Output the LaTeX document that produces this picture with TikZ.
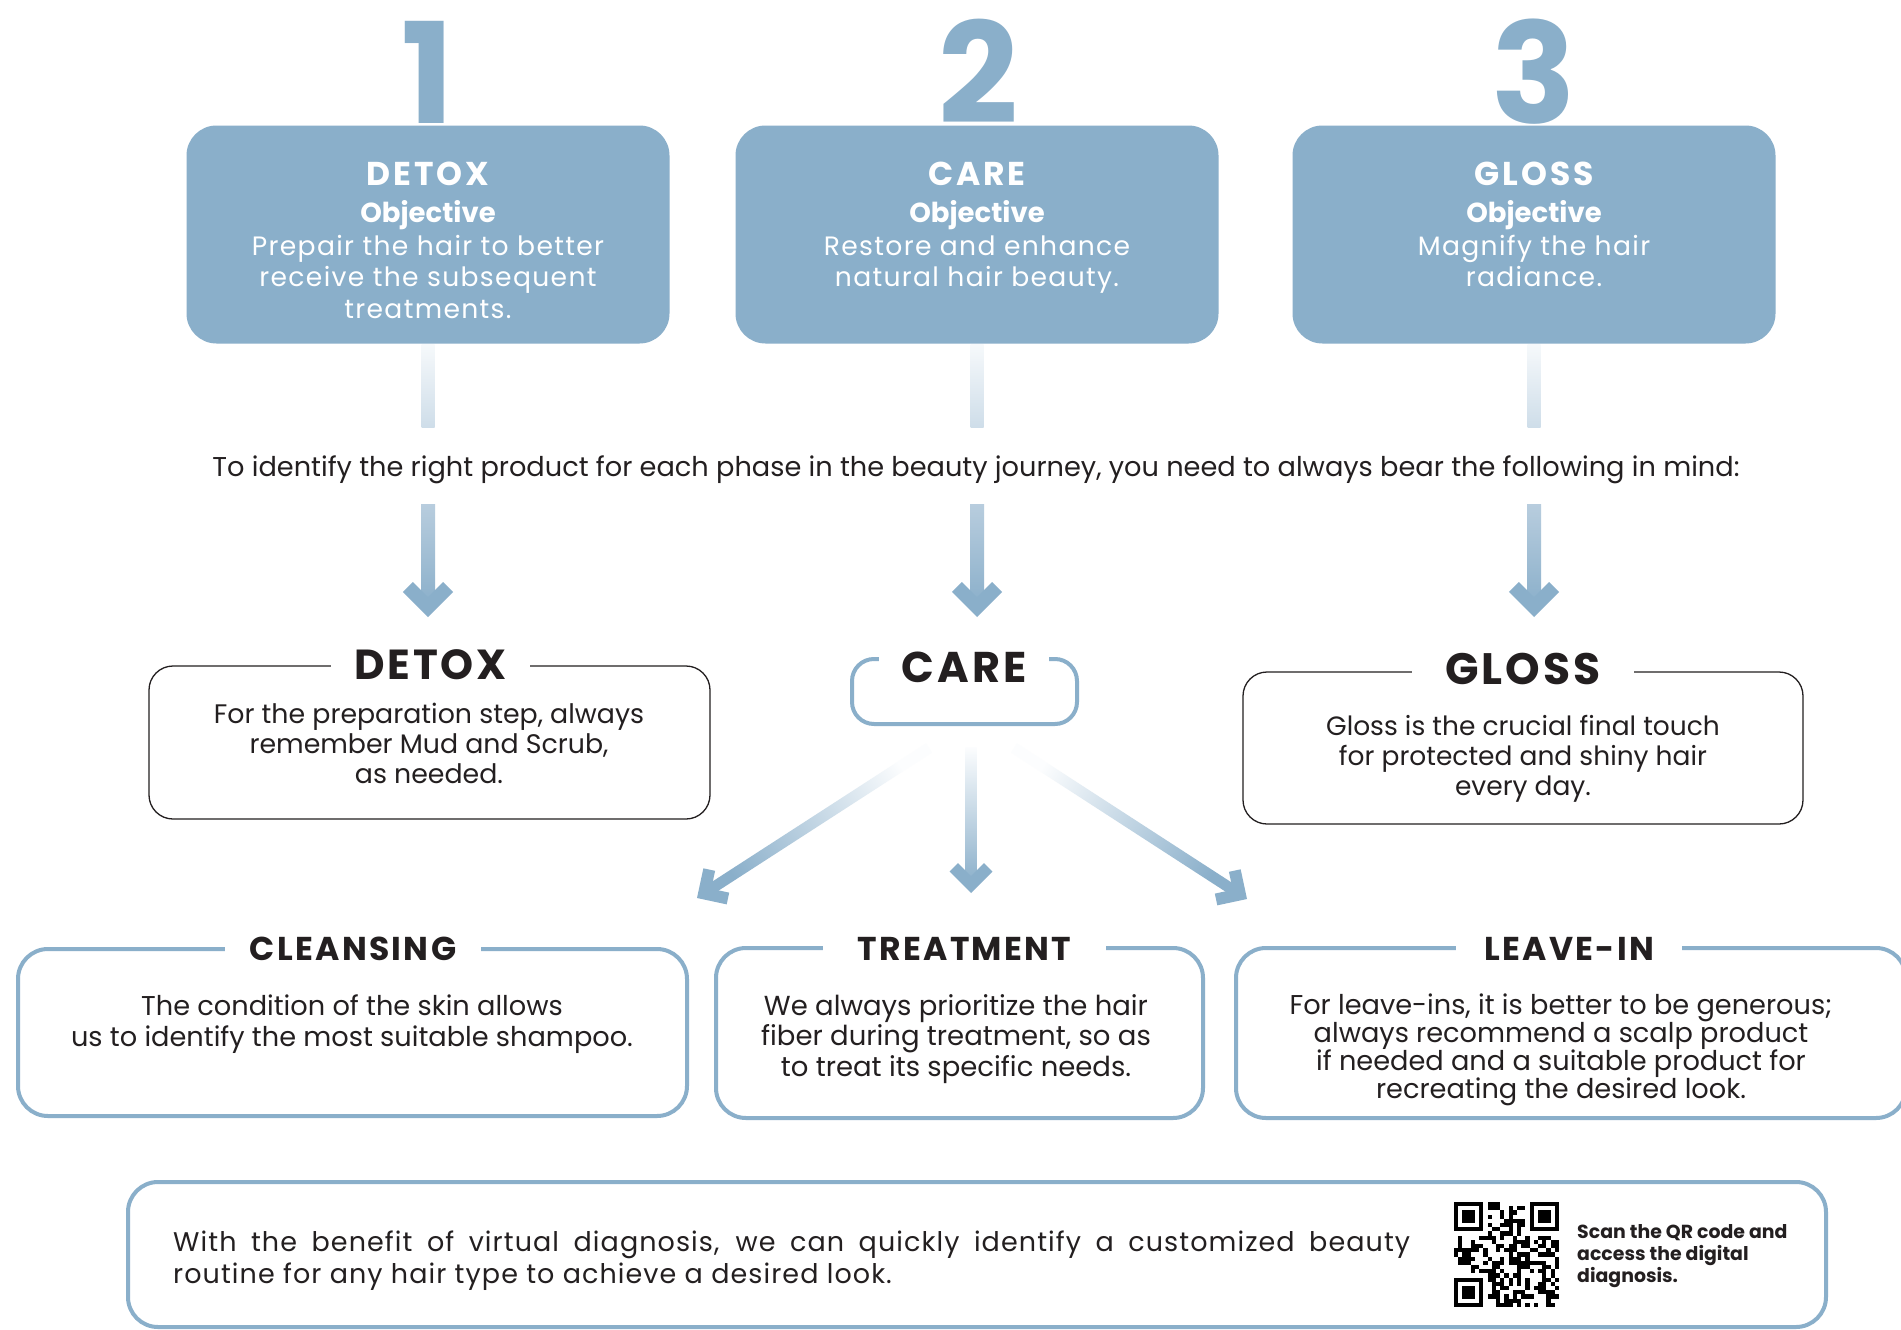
\documentclass[tikz,border=0pt]{standalone}
\usepackage{fontspec}
\setmainfont{Poppins}
\newfontfamily\popS[LetterSpace=5]{Poppins}
\newfontfamily\popT[LetterSpace=9]{Poppins}
\newfontfamily\popH[LetterSpace=7]{Poppins}
\newfontfamily\popW[LetterSpace=4]{Poppins}
\usetikzlibrary{calc}
\definecolor{stepblue}{RGB}{138,175,202}
\definecolor{ink}{RGB}{35,31,32}
\definecolor{barTop}{RGB}{246,249,251}
\definecolor{barBot}{RGB}{206,221,233}
\definecolor{arrTop}{RGB}{184,205,222}
\definecolor{fadeTop}{RGB}{252,253,254}

% #1 start, #2 tip, #3 shaft width, #4 head stroke, #5 shading angle, #6 start colour
\newcommand{\flowarrow}[6]{%
  \coordinate (fav) at ($(#2)!{0.7071*#4}!(#1)$);
  \shade[top color=#6, bottom color=stepblue, shading angle=#5]
    ($(#1)!{0.5*#3}!90:(fav)$) -- ($(#1)!{0.5*#3}!-90:(fav)$) --
    ($(fav)!{0.5*#3}!90:(#1)$) -- ($(fav)!{0.5*#3}!-90:(#1)$) -- cycle;
  \draw[stepblue, line width=#4, line join=miter, line cap=butt]
    ($(fav)!{2.03*#4}!45:(#1)$) -- (fav) -- ($(fav)!{2.03*#4}!-45:(#1)$);
}

\begin{document}
\begin{tikzpicture}[x=1pt,y=-1pt,
  stepbox/.style={fill=stepblue, rounded corners=30pt, minimum width=483pt, minimum height=218pt, inner sep=0pt},
  stepnum/.style={text=stepblue, font=\fontsize{140}{140}\selectfont\bfseries, anchor=base, inner sep=0pt},
  steptitle/.style={text=white, font=\popT\fontsize{33}{33}\selectfont\bfseries, anchor=base, inner sep=0pt},
  stepobj/.style={text=white, font=\fontsize{27.5}{27.5}\selectfont\bfseries, anchor=base, inner sep=0pt},
  stepbody/.style={text=white, font=\popS\fontsize{26.6}{31.5}\selectfont, align=center, anchor=base, inner sep=0pt},
  linebox/.style={draw=ink, line width=1.3pt, rounded corners=24pt, inner sep=0pt},
  bluebox/.style={draw=stepblue, line width=4pt, rounded corners=30pt, inner sep=0pt},
  midtitle/.style={fill=white, text=ink, font=\popH\fontsize{42}{42}\selectfont\bfseries, anchor=base, inner xsep=0pt, inner ysep=6pt},
  lowtitle/.style={fill=white, text=ink, font=\popH\fontsize{33}{33}\selectfont\bfseries, anchor=base, inner xsep=0pt, inner ysep=6pt},
  bodytext/.style={text=ink, align=center, anchor=base, inner sep=0pt},
]
\useasboundingbox (0,0) rectangle (1901,1330);
\fill[white] (0,0) rectangle (1901,1330);

% ---------- top row ----------
\node[stepbox] (b1) at (428,234.5) {};
\node[stepbox] (b2) at (977,234.5) {};
\node[stepbox] (b3) at (1534,234.5) {};
\node[stepnum] (n1) at (428,123) {1};
\node[stepnum] (n2) at (978,123) {2};
\node[stepnum] (n3) at (1534,123) {3};

% multi-line nodes: anchor=base sits on the LAST line
\node[steptitle] (t1) at (428,185) {DETOX};
\node[stepobj] (o1) at (428,222) {Objective};
\node[stepbody] (d1) at (428,318) {Prepair the hair to better\\receive the subsequent\\treatments.};

\node[steptitle] (t2) at (977,185) {CARE};
\node[stepobj] (o2) at (977,222) {Objective};
\node[stepbody] (d2) at (977,286.5) {Restore and enhance\\natural hair beauty.};

\node[steptitle] (t3) at (1534,185) {GLOSS};
\node[stepobj] (o3) at (1534,222) {Objective};
\node[stepbody] (d3) at (1534,286.5) {Magnify the hair\\radiance.};

\foreach \b in {b1,b2,b3}{
  \shade[top color=barTop, bottom color=barBot] ($(\b.south)+(-6.5,1)$) rectangle ($(\b.south)+(6.5,84)$);
}

% ---------- guide sentence ----------
\node[text=ink, font=\fontsize{27.2}{31}\selectfont, anchor=base, inner sep=0pt] (guide) at (976,476)
  {To identify the right product for each phase in the beauty journey, you need to always bear the following in mind:};

% ---------- down arrows ----------
\coordinate (d1s) at (428,504);  \coordinate (d1t) at (428,617);
\coordinate (d2s) at (977,504);  \coordinate (d2t) at (977,617);
\coordinate (d3s) at (1534,504); \coordinate (d3t) at (1534,617);
\flowarrow{d1s}{d1t}{14pt}{14pt}{0}{arrTop}
\flowarrow{d2s}{d2t}{14pt}{14pt}{0}{arrTop}
\flowarrow{d3s}{d3t}{14pt}{14pt}{0}{arrTop}

% ---------- middle row ----------
\node[linebox, minimum width=561pt, minimum height=153pt] (mdetox) at (429.5,742.5) {};
\node[midtitle, minimum width=199pt] (mdetoxT) at (430.5,679) {DETOX};
\node[bodytext, font=\fontsize{26.8}{30}\selectfont] (mdetoxB) at (429,783)
  {For the preparation step, always\\remember Mud and Scrub,\\as needed.};

\node[draw=stepblue, line width=4pt, rounded corners=22pt, minimum width=225pt, minimum height=65pt, inner sep=0pt] (mcare) at (964.5,691.5) {};
\node[midtitle, minimum width=170pt, font=\popH\fontsize{43}{43}\selectfont\bfseries] (mcareT) at (964,682) {CARE};

\node[linebox, minimum width=560pt, minimum height=152pt] (mgloss) at (1523,748) {};
\node[midtitle, minimum width=222pt, font=\popH\fontsize{44}{44}\selectfont\bfseries] (mglossT) at (1523,684) {GLOSS};
\node[bodytext, font=\fontsize{26.5}{30}\selectfont] (mglossB) at (1523,795)
  {Gloss is the crucial final touch\\for protected and shiny hair\\every day.};

% ---------- diverging arrows ----------
\coordinate (c1s) at (929,748);  \coordinate (c1t) at (697,898);
\coordinate (c2s) at (971,747);  \coordinate (c2t) at (971,893);
\coordinate (c3s) at (1014,748); \coordinate (c3t) at (1247,899);
\flowarrow{c1s}{c1t}{11pt}{12pt}{-57.2}{fadeTop}
\flowarrow{c2s}{c2t}{11pt}{12pt}{0}{fadeTop}
\flowarrow{c3s}{c3t}{11pt}{12pt}{57.1}{fadeTop}

% ---------- bottom row ----------
\node[bluebox, minimum width=669pt, minimum height=167pt] (clean) at (352.5,1032.5) {};
\node[lowtitle, minimum width=256pt] (cleanT) at (353,960) {CLEANSING};
\node[bodytext, font=\fontsize{27.2}{31}\selectfont] (cleanB) at (352,1046)
  {The condition of the skin allows\\us to identify the most suitable shampoo.};

\node[bluebox, minimum width=487pt, minimum height=170pt] (treat) at (959.5,1033) {};
\node[lowtitle, minimum width=283pt] (treatT) at (964.5,960) {TREATMENT};
\node[bodytext, font=\fontsize{27.5}{30.5}\selectfont] (treatB) at (956,1076)
  {We always prioritize the hair\\fiber during treatment, so as\\to treat its specific needs.};

\node[bluebox, minimum width=670pt, minimum height=170pt] (leave) at (1571,1033) {};
\node[lowtitle, minimum width=226pt] (leaveT) at (1569,960) {LEAVE-IN};
\node[bodytext, font=\fontsize{27.2}{28}\selectfont] (leaveB) at (1561,1098)
  {For leave-ins, it is better to be generous;\\always recommend a scalp product\\if needed and a suitable product for\\recreating the desired look.};

% ---------- bottom banner ----------
\node[bluebox, minimum width=1698pt, minimum height=145pt] (banner) at (977,1254.5) {};
\node[text=ink, font=\popW\fontsize{27}{32}\selectfont, align=left, anchor=base west, inner sep=0pt] (diag) at (173,1283)
  {\makebox[1237pt][s]{With the benefit of virtual diagnosis, we can quickly identify a customized beauty}\\routine for any hair type to achieve a desired look.};

% QR code (pseudo pattern)
\pgfmathsetseed{42}
\foreach \i in {0,...,24}{
  \foreach \j in {0,...,24}{
    \pgfmathsetmacro\qrskip{((\i<8 && \j<8) || (\i>16 && \j<8) || (\i<8 && \j>16)) ? 1 : 0}
    \pgfmathsetmacro\qrr{rnd}
    \ifdim \qrskip pt < 0.5pt \ifdim \qrr pt < 0.52pt
      \fill[black] (1454+\i*4.2,1202+\j*4.2) rectangle ++(4.25,4.25);
    \fi\fi
  }
}
\foreach \ox/\oy in {1454/1202, 1529.6/1202, 1454/1277.6}{
  \fill[black] (\ox,\oy) rectangle ++(29.4,29.4);
  \fill[white] (\ox+4.2,\oy+4.2) rectangle ++(21,21);
  \fill[black] (\ox+8.4,\oy+8.4) rectangle ++(12.6,12.6);
}
\node[text=ink, font=\fontsize{18.9}{22}\selectfont\bfseries, align=left, anchor=base west, inner sep=0pt] (scan) at (1577,1282)
  {Scan the QR code and\\access the digital\\diagnosis.};
\end{tikzpicture}
\end{document}
